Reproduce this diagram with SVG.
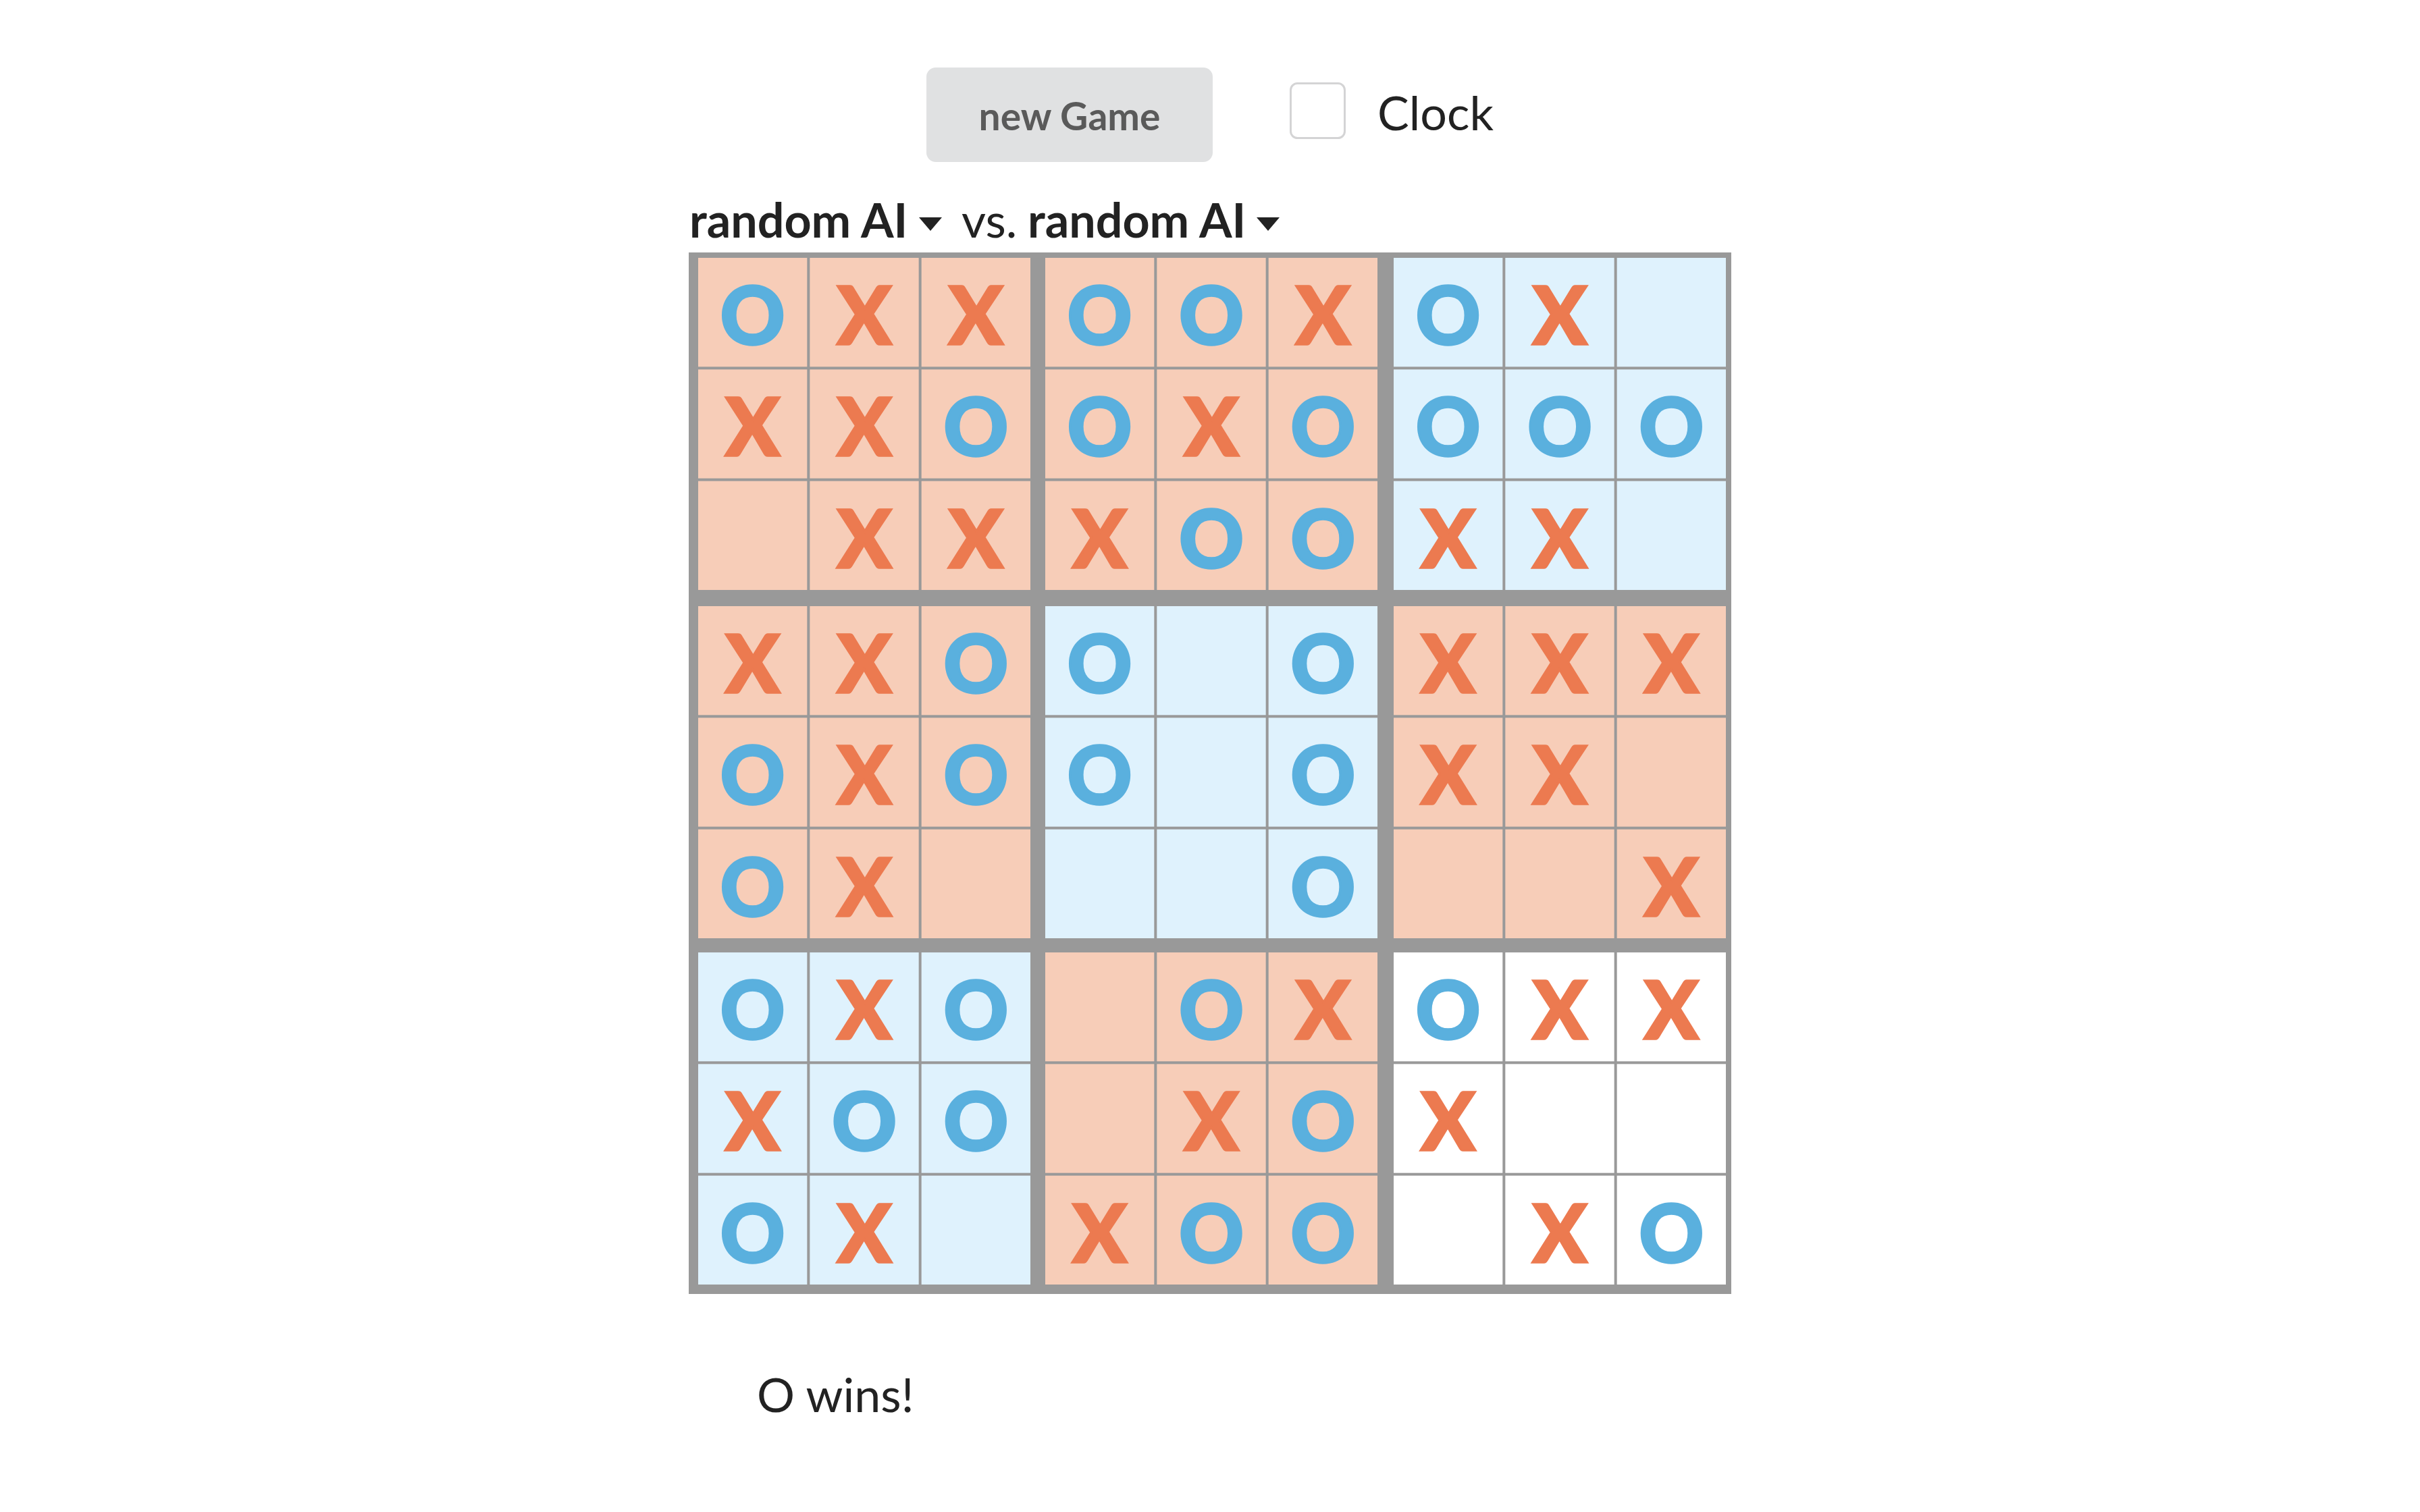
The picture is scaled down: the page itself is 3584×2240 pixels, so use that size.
<svg xmlns="http://www.w3.org/2000/svg" width="3584" height="2240" viewBox="0 0 3584 2240">
<style>
.t{font-family:Lato,"Noto Sans",sans-serif;fill:#222}
.bd{font-weight:700}
.m{font-family:Lato,"Noto Sans",sans-serif;font-weight:900;font-size:118px;text-anchor:middle;stroke-width:3.5;stroke-linejoin:miter}
.x{fill:#ec7a50;stroke:#ec7a50}
.o{fill:#5ab0de;stroke:#5ab0de}
.p{fill:#f7cdb8}
.b{fill:#dff2fd}
.w{fill:#ffffff}
.ln{fill:#999999}
</style>
<rect width="3584" height="2240" fill="#ffffff"/>
<g id="new-game-button">
<rect x="1372" y="100" width="424" height="140" rx="14" fill="#e0e1e2"/>
<text class="t bd" x="1584" y="193" font-size="57" text-anchor="middle" style="fill:#5a5a5a">new Game</text>
</g>
<g id="clock-checkbox">
<rect x="1911.5" y="123.5" width="80" height="81" rx="10" fill="#ffffff" stroke="#d4d4d5" stroke-width="3"/>
<text class="t" x="2040" y="193" font-size="70">Clock</text>
</g>
<g id="players">
<text class="t bd" x="1021" y="352" font-size="70">random AI</text>
<path d="M1361 322 L1395 322 L1378 342 Z" fill="#222"/>
<text class="t" x="1424" y="352" font-size="70">vs.</text>
<text class="t bd" x="1522" y="352" font-size="70">random AI</text>
<path d="M1861 322 L1895 322 L1878 342 Z" fill="#222"/>
</g>
<g id="board">
<rect class="ln" x="1020" y="374" width="1544" height="1543"/>

<g id="block-0-0">
<rect class="p" x="1034" y="382" width="492" height="492"/>
<rect class="ln" x="1195.33" y="382" width="4" height="492"/><rect class="ln" x="1360.67" y="382" width="4" height="492"/>
<rect class="ln" x="1034" y="543.33" width="492" height="4"/><rect class="ln" x="1034" y="708.67" width="492" height="4"/>
<text class="m o" x="1114.67" y="510">O</text><text class="m x" x="1280" y="510">X</text><text class="m x" x="1445.33" y="510">X</text>
<text class="m x" x="1114.67" y="675.33">X</text><text class="m x" x="1280" y="675.33">X</text><text class="m o" x="1445.33" y="675.33">O</text>
<text class="m x" x="1280" y="840.67">X</text><text class="m x" x="1445.33" y="840.67">X</text>
</g>

<g id="block-0-1">
<rect class="p" x="1548" y="382" width="492" height="492"/>
<rect class="ln" x="1709.33" y="382" width="4" height="492"/><rect class="ln" x="1874.67" y="382" width="4" height="492"/>
<rect class="ln" x="1548" y="543.33" width="492" height="4"/><rect class="ln" x="1548" y="708.67" width="492" height="4"/>
<text class="m o" x="1628.67" y="510">O</text><text class="m o" x="1794" y="510">O</text><text class="m x" x="1959.33" y="510">X</text>
<text class="m o" x="1628.67" y="675.33">O</text><text class="m x" x="1794" y="675.33">X</text><text class="m o" x="1959.33" y="675.33">O</text>
<text class="m x" x="1628.67" y="840.67">X</text><text class="m o" x="1794" y="840.67">O</text><text class="m o" x="1959.33" y="840.67">O</text>
</g>

<g id="block-0-2">
<rect class="b" x="2064" y="382" width="492" height="492"/>
<rect class="ln" x="2225.33" y="382" width="4" height="492"/><rect class="ln" x="2390.67" y="382" width="4" height="492"/>
<rect class="ln" x="2064" y="543.33" width="492" height="4"/><rect class="ln" x="2064" y="708.67" width="492" height="4"/>
<text class="m o" x="2144.67" y="510">O</text><text class="m x" x="2310" y="510">X</text>
<text class="m o" x="2144.67" y="675.33">O</text><text class="m o" x="2310" y="675.33">O</text><text class="m o" x="2475.33" y="675.33">O</text>
<text class="m x" x="2144.67" y="840.67">X</text><text class="m x" x="2310" y="840.67">X</text>
</g>

<g id="block-1-0">
<rect class="p" x="1034" y="898" width="492" height="492"/>
<rect class="ln" x="1195.33" y="898" width="4" height="492"/><rect class="ln" x="1360.67" y="898" width="4" height="492"/>
<rect class="ln" x="1034" y="1059.33" width="492" height="4"/><rect class="ln" x="1034" y="1224.67" width="492" height="4"/>
<text class="m x" x="1114.67" y="1026">X</text><text class="m x" x="1280" y="1026">X</text><text class="m o" x="1445.33" y="1026">O</text>
<text class="m o" x="1114.67" y="1191.33">O</text><text class="m x" x="1280" y="1191.33">X</text><text class="m o" x="1445.33" y="1191.33">O</text>
<text class="m o" x="1114.67" y="1356.67">O</text><text class="m x" x="1280" y="1356.67">X</text>
</g>

<g id="block-1-1">
<rect class="b" x="1548" y="898" width="492" height="492"/>
<rect class="ln" x="1709.33" y="898" width="4" height="492"/><rect class="ln" x="1874.67" y="898" width="4" height="492"/>
<rect class="ln" x="1548" y="1059.33" width="492" height="4"/><rect class="ln" x="1548" y="1224.67" width="492" height="4"/>
<text class="m o" x="1628.67" y="1026">O</text><text class="m o" x="1959.33" y="1026">O</text>
<text class="m o" x="1628.67" y="1191.33">O</text><text class="m o" x="1959.33" y="1191.33">O</text>
<text class="m o" x="1959.33" y="1356.67">O</text>
</g>

<g id="block-1-2">
<rect class="p" x="2064" y="898" width="492" height="492"/>
<rect class="ln" x="2225.33" y="898" width="4" height="492"/><rect class="ln" x="2390.67" y="898" width="4" height="492"/>
<rect class="ln" x="2064" y="1059.33" width="492" height="4"/><rect class="ln" x="2064" y="1224.67" width="492" height="4"/>
<text class="m x" x="2144.67" y="1026">X</text><text class="m x" x="2310" y="1026">X</text><text class="m x" x="2475.33" y="1026">X</text>
<text class="m x" x="2144.67" y="1191.33">X</text><text class="m x" x="2310" y="1191.33">X</text>
<text class="m x" x="2475.33" y="1356.67">X</text>
</g>

<g id="block-2-0">
<rect class="b" x="1034" y="1411" width="492" height="492"/>
<rect class="ln" x="1195.33" y="1411" width="4" height="492"/><rect class="ln" x="1360.67" y="1411" width="4" height="492"/>
<rect class="ln" x="1034" y="1572.33" width="492" height="4"/><rect class="ln" x="1034" y="1737.67" width="492" height="4"/>
<text class="m o" x="1114.67" y="1539">O</text><text class="m x" x="1280" y="1539">X</text><text class="m o" x="1445.33" y="1539">O</text>
<text class="m x" x="1114.67" y="1704.33">X</text><text class="m o" x="1280" y="1704.33">O</text><text class="m o" x="1445.33" y="1704.33">O</text>
<text class="m o" x="1114.67" y="1869.67">O</text><text class="m x" x="1280" y="1869.67">X</text>
</g>

<g id="block-2-1">
<rect class="p" x="1548" y="1411" width="492" height="492"/>
<rect class="ln" x="1709.33" y="1411" width="4" height="492"/><rect class="ln" x="1874.67" y="1411" width="4" height="492"/>
<rect class="ln" x="1548" y="1572.33" width="492" height="4"/><rect class="ln" x="1548" y="1737.67" width="492" height="4"/>
<text class="m o" x="1794" y="1539">O</text><text class="m x" x="1959.33" y="1539">X</text>
<text class="m x" x="1794" y="1704.33">X</text><text class="m o" x="1959.33" y="1704.33">O</text>
<text class="m x" x="1628.67" y="1869.67">X</text><text class="m o" x="1794" y="1869.67">O</text><text class="m o" x="1959.33" y="1869.67">O</text>
</g>

<g id="block-2-2">
<rect class="w" x="2064" y="1411" width="492" height="492"/>
<rect class="ln" x="2225.33" y="1411" width="4" height="492"/><rect class="ln" x="2390.67" y="1411" width="4" height="492"/>
<rect class="ln" x="2064" y="1572.33" width="492" height="4"/><rect class="ln" x="2064" y="1737.67" width="492" height="4"/>
<text class="m o" x="2144.67" y="1539">O</text><text class="m x" x="2310" y="1539">X</text><text class="m x" x="2475.33" y="1539">X</text>
<text class="m x" x="2144.67" y="1704.33">X</text>
<text class="m x" x="2310" y="1869.67">X</text><text class="m o" x="2475.33" y="1869.67">O</text>
</g>
</g>
<g id="status">
<text class="t" x="1121" y="2092" font-size="70">O wins!</text>
</g>
<g id="connectors"/>
</svg>
